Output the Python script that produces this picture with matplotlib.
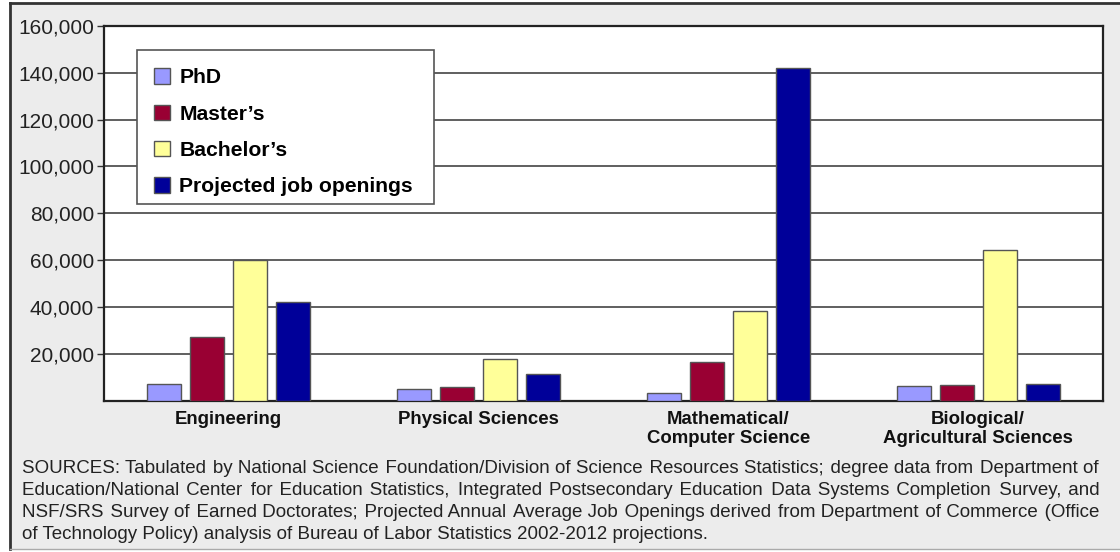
import matplotlib
matplotlib.use('Agg')
import matplotlib.pyplot as plt
from matplotlib.lines import Line2D
from matplotlib.patches import Patch, Rectangle
import numpy as np

# Dữ liệu
categories = ['Engineering', 'Physical Sciences', 'Mathematical/\nComputer Science',
              'Biological/\nAgricultural Sciences']
series_names = ['PhD', "Master\u2019s", "Bachelor\u2019s", 'Projected job openings']
phd = [7200, 5300, 3300, 6200]
masters = [27300, 6000, 16600, 6800]
bachelors = [60000, 17900, 38300, 64200]
job_openings = [42200, 11300, 142000, 7100]
y_ticks = [20000, 40000, 60000, 80000, 100000, 120000, 140000, 160000]

colors = ['#9999ff', '#990033', '#ffff99', '#000099']
source_lines = [
    "SOURCES: Tabulated by National Science Foundation/Division of Science Resources Statistics; degree data from Department of",
    "Education/National Center for Education Statistics, Integrated Postsecondary Education Data Systems Completion Survey, and",
    "NSF/SRS Survey of Earned Doctorates; Projected Annual Average Job Openings derived from Department of Commerce (Office",
    "of Technology Policy) analysis of Bureau of Labor Statistics 2002-2012 projections.",
]

plt.rcParams['font.family'] = ['Liberation Sans', 'DejaVu Sans']

W, H = 1120, 552
fig = plt.figure(figsize=(11.2, 5.52), dpi=100, facecolor='white')

# nền xám và khung
fig.patches.append(Rectangle((10 / W, 1 - 549 / H), 1 - 10 / W, (549 - 3) / H,
                             transform=fig.transFigure, facecolor='#ececec',
                             edgecolor='none', zorder=-10))
fig.lines.append(Line2D([10 / W, 1], [1 - 3 / H, 1 - 3 / H], transform=fig.transFigure,
                        color='#333333', lw=2))
fig.lines.append(Line2D([10 / W, 10 / W], [1 - 3 / H, 1 - 549 / H], transform=fig.transFigure,
                        color='#333333', lw=2))
fig.lines.append(Line2D([10 / W, 1], [1 - 549 / H, 1 - 549 / H], transform=fig.transFigure,
                        color='#aaaaaa', lw=1))

ax_l, ax_r, ax_t, ax_b = 103.6, 1103, 25.7, 401
ax = fig.add_axes([ax_l / W, 1 - ax_b / H, (ax_r - ax_l) / W, (ax_b - ax_t) / H])
ax.set_facecolor('white')

x = np.arange(len(categories))
step = 0.172
width = 0.136
all_series = [phd, masters, bachelors, job_openings]
for i, (vals, color) in enumerate(zip(all_series, colors)):
    ax.bar(x + (i - 1.5) * step, vals, width=width, color=color,
           edgecolor='#555555', linewidth=1, zorder=3)

ax.set_xlim(-0.5, 3.5)
ax.set_ylim(0, 160000)
ax.set_yticks(y_ticks)
ax.set_yticklabels([f'{v:,}' for v in y_ticks], fontsize=15, color='#222222')
ax.tick_params(axis='y', length=5, width=1, pad=2, color='#333333')
ax.set_xticks(x)
ax.set_xticklabels(categories, fontsize=13.4, fontweight='bold', color='#111111', linespacing=1.2)
ax.tick_params(axis='x', length=0, pad=7)
ax.yaxis.grid(True, color='#444444', linewidth=1.2, zorder=0)
ax.set_axisbelow(True)
for s in ax.spines.values():
    s.set_color('#222222')
    s.set_linewidth(1.6)

# khung chú thích
def to_ax(px, py):
    return (px - ax_l) / (ax_r - ax_l), (ax_b - py) / (ax_b - ax_t)

bx0, by0 = to_ax(137, 204)
bx1, by1 = to_ax(434, 50)
ax.add_patch(Rectangle((bx0, by0), bx1 - bx0, by1 - by0, transform=ax.transAxes,
                       facecolor='white', edgecolor='#555555', linewidth=1.2, zorder=5))

handles = [Patch(facecolor=c, edgecolor='#555555', linewidth=1) for c in colors]
lx, ly = to_ax(136, 50)
leg = ax.legend(handles, series_names, loc='upper left', bbox_to_anchor=(lx, ly),
                borderaxespad=0, frameon=False,
                handlelength=0.75, handleheight=0.75, handletextpad=0.45, labelspacing=0.82,
                borderpad=0.86, prop={'size': 15.2, 'weight': 'bold'})
leg.set_zorder(6)

# chú thích nguồn, căn đều hai bên bằng hair space
renderer = fig.canvas.get_renderer()
x_left, x_right = 22, 1099
y0, dy = 473, 22
src_kw = dict(fontsize=13.5, color='#222222', va='baseline', ha='left')

def text_width(s):
    t = fig.text(0, 0, s, **src_kw)
    wd = t.get_window_extent(renderer).width
    t.remove()
    return wd

hair = '\u200a'
hair_w = (text_width('a' + hair * 20 + 'a') - text_width('aa')) / 20

for k, line in enumerate(source_lines):
    yy = 1 - (y0 + k * dy) / H
    if k == len(source_lines) - 1 or hair_w <= 0:
        fig.text(x_left / W, yy, line, **src_kw)
        continue
    words = line.split(' ')
    extra = (x_right - x_left) - text_width(line)
    n_total = max(0, int(round(extra / hair_w)))
    n_gaps = len(words) - 1
    out = words[0]
    done = 0
    for g in range(1, n_gaps + 1):
        target = int(round(n_total * g / n_gaps))
        out += ' ' + hair * (target - done) + words[g]
        done = target
    fig.text(x_left / W, yy, out, **src_kw)

fig.savefig('out.png', dpi=100, facecolor=fig.get_facecolor())
